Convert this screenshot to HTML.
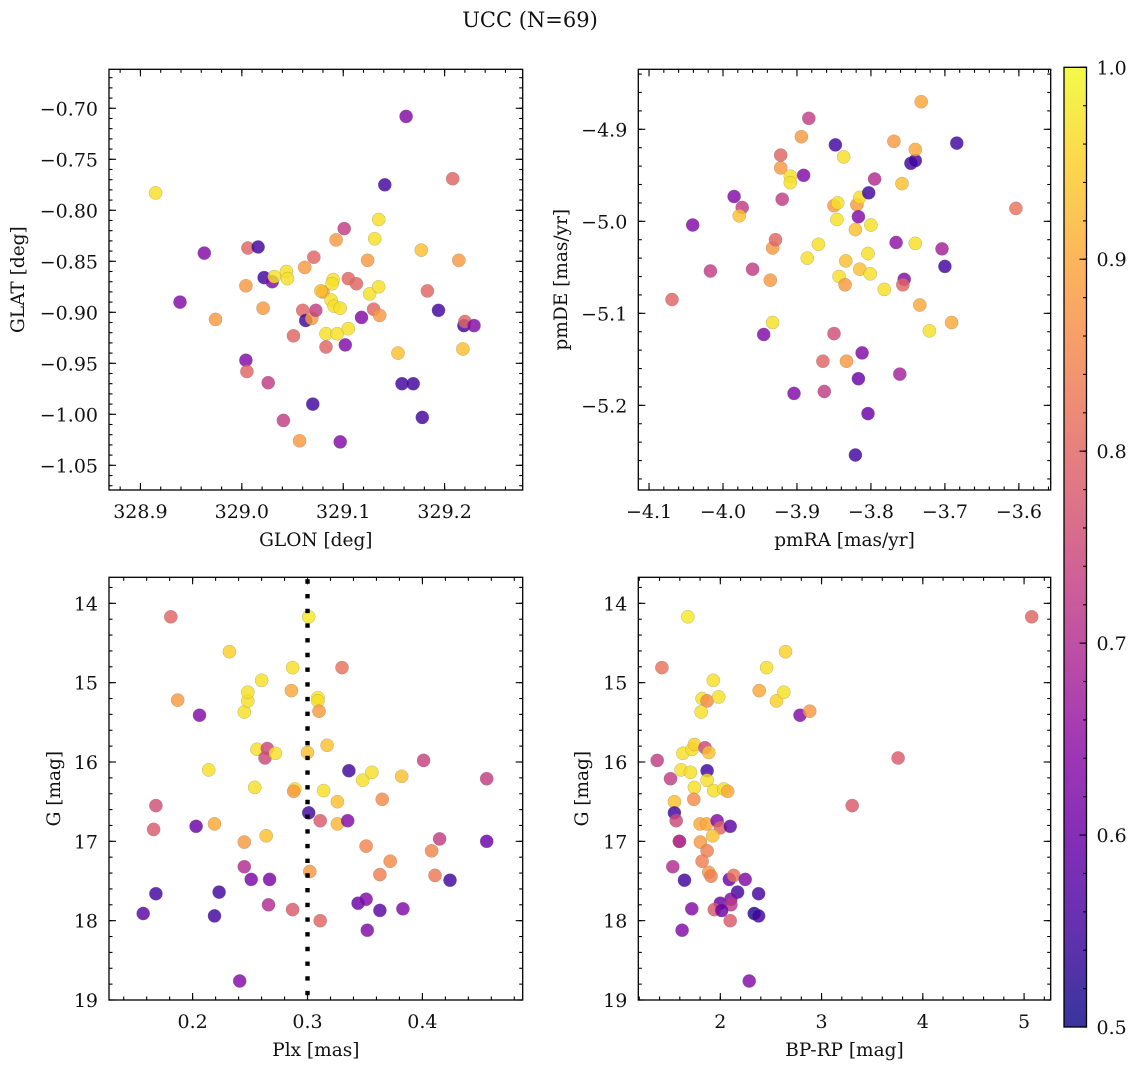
<!DOCTYPE html>
<html><head><meta charset="utf-8">
<style>
html,body{margin:0;padding:0;background:#fff;}
svg{display:block;}
text{font-family:"DejaVu Serif","Liberation Serif",serif;fill:#111;}
</style></head>
<body>
<svg id="fig" width="1136" height="1067" viewBox="0 0 1136 1067" xmlns="http://www.w3.org/2000/svg">
<defs>
<linearGradient id="cbgrad" x1="0" y1="1" x2="0" y2="0"></linearGradient>
</defs>
<text x="530" y="27" font-size="21" text-anchor="middle">UCC (N=69)</text>
</svg>
<script>
// ---- data (Y=0.97, mixed=0.93, orange=0.88, salmon=0.80, pink=0.73, purple=0.63, dark=0.55) ----
const glon = [328.915,328.963,328.939,328.974,329.004,329.006,329.016,329.004,329.005,329.021,329.022,329.030,329.032,329.044,329.045,329.026,329.041,329.057,329.051,329.062,329.071,329.060,329.063,329.069,329.073,329.070,329.080,329.078,329.083,329.083,329.090,329.089,329.088,329.091,329.097,329.094,329.093,329.101,329.102,329.097,329.105,329.105,329.113,329.118,329.124,329.126,329.130,329.135,329.136,329.131,329.135,329.141,329.162,329.154,329.158,329.169,329.177,329.178,329.183,329.194,329.208,329.214,329.218,329.219,329.220,329.229];
const glat = [-0.783,-0.842,-0.890,-0.907,-0.874,-0.837,-0.836,-0.947,-0.958,-0.896,-0.866,-0.870,-0.865,-0.860,-0.867,-0.969,-1.006,-1.026,-0.923,-0.856,-0.846,-0.898,-0.908,-0.906,-0.898,-0.990,-0.880,-0.879,-0.921,-0.934,-0.868,-0.872,-0.888,-0.894,-0.896,-0.921,-0.829,-0.818,-0.932,-1.027,-0.916,-0.867,-0.872,-0.905,-0.849,-0.882,-0.897,-0.875,-0.903,-0.828,-0.809,-0.775,-0.708,-0.940,-0.970,-0.970,-0.839,-1.003,-0.879,-0.898,-0.769,-0.849,-0.936,-0.913,-0.909,-0.913];
const prob1 = [0.97,0.63,0.63,0.88,0.88,0.80,0.55,0.63,0.80,0.88,0.55,0.63,0.97,0.97,0.97,0.73,0.73,0.88,0.80,0.88,0.80,0.80,0.55,0.88,0.73,0.55,0.88,0.93,0.97,0.80,0.97,0.97,0.97,0.97,0.97,0.97,0.88,0.73,0.63,0.63,0.97,0.80,0.80,0.63,0.88,0.97,0.80,0.97,0.88,0.97,0.97,0.55,0.63,0.93,0.55,0.55,0.93,0.55,0.80,0.55,0.80,0.88,0.93,0.55,0.80,0.63];

const pmra = [-4.069,-4.041,-4.017,-3.985,-3.974,-3.978,-3.960,-3.945,-3.936,-3.933,-3.933,-3.929,-3.922,-3.922,-3.920,-3.909,-3.909,-3.894,-3.891,-3.884,-3.886,-3.871,-3.904,-3.863,-3.865,-3.850,-3.848,-3.850,-3.845,-3.846,-3.837,-3.834,-3.843,-3.835,-3.833,-3.821,-3.819,-3.815,-3.817,-3.803,-3.815,-3.800,-3.804,-3.801,-3.812,-3.817,-3.804,-3.821,-3.795,-3.782,-3.769,-3.766,-3.758,-3.755,-3.757,-3.761,-3.746,-3.740,-3.740,-3.740,-3.734,-3.732,-3.721,-3.704,-3.700,-3.691,-3.684,-3.604];
const pmde = [-5.085,-5.004,-5.054,-4.973,-4.985,-4.994,-5.052,-5.123,-5.064,-5.110,-5.029,-5.020,-4.928,-4.942,-4.976,-4.951,-4.958,-4.908,-4.950,-4.888,-5.040,-5.025,-5.187,-5.185,-5.152,-5.122,-4.917,-4.983,-4.980,-4.998,-4.930,-5.043,-5.060,-5.069,-5.152,-5.009,-4.982,-4.974,-4.995,-4.969,-5.052,-5.004,-5.035,-5.057,-5.143,-5.171,-5.209,-5.254,-4.954,-5.074,-4.913,-5.023,-4.959,-5.063,-5.069,-5.166,-4.937,-4.934,-4.922,-5.024,-5.091,-4.870,-5.119,-5.030,-5.049,-5.110,-4.915,-4.986];
const prob2 = [0.80,0.63,0.73,0.63,0.73,0.93,0.73,0.63,0.88,0.97,0.88,0.80,0.80,0.88,0.73,0.97,0.97,0.88,0.63,0.73,0.97,0.97,0.63,0.73,0.80,0.76,0.55,0.88,0.97,0.97,0.97,0.93,0.97,0.88,0.88,0.93,0.88,0.97,0.63,0.55,0.93,0.97,0.97,0.97,0.63,0.60,0.60,0.55,0.70,0.97,0.88,0.65,0.93,0.63,0.80,0.68,0.55,0.55,0.90,0.97,0.90,0.90,0.97,0.68,0.55,0.90,0.55,0.82];

const plx = [0.181,0.187,0.206,0.232,0.168,0.166,0.168,0.157,0.203,0.214,0.219,0.223,0.219,0.241,0.245,0.245,0.251,0.245,0.248,0.248,0.254,0.256,0.260,0.265,0.263,0.272,0.264,0.266,0.267,0.287,0.287,0.286,0.289,0.288,0.301,0.300,0.301,0.302,0.309,0.309,0.310,0.311,0.311,0.317,0.314,0.326,0.326,0.330,0.335,0.336,0.344,0.351,0.352,0.348,0.356,0.351,0.363,0.363,0.365,0.372,0.382,0.383,0.401,0.408,0.411,0.415,0.424,0.456,0.456];
const gmagA = [14.17,15.22,15.41,14.61,16.55,16.85,17.66,17.91,16.81,16.10,16.78,17.64,17.94,18.76,17.01,17.32,17.48,15.37,15.23,15.12,16.32,15.84,14.97,15.83,15.95,15.89,16.93,17.80,17.48,17.86,14.81,15.10,16.34,16.37,14.17,15.88,16.64,17.38,15.19,15.23,15.36,16.74,18.00,15.79,16.36,16.50,16.78,14.81,16.74,16.11,17.78,17.73,18.12,16.23,16.13,17.06,17.87,17.42,16.47,17.25,16.18,17.85,15.98,17.12,17.43,16.97,17.49,16.21,17.00];
const prob3 = [0.80,0.88,0.63,0.95,0.76,0.78,0.55,0.58,0.60,0.97,0.90,0.55,0.55,0.63,0.88,0.70,0.62,0.97,0.97,0.97,0.97,0.97,0.97,0.75,0.75,0.97,0.93,0.70,0.62,0.78,0.97,0.90,0.97,0.88,0.98,0.93,0.55,0.88,0.98,0.97,0.88,0.78,0.80,0.93,0.97,0.93,0.92,0.82,0.63,0.55,0.60,0.63,0.63,0.97,0.97,0.85,0.58,0.84,0.86,0.86,0.93,0.63,0.74,0.85,0.83,0.73,0.55,0.73,0.60];

const bprp = [1.679,1.423,1.931,1.820,1.869,1.984,1.810,2.384,2.457,2.644,2.555,2.627,2.787,2.883,1.377,1.508,1.630,1.721,1.744,1.849,1.886,1.613,1.705,1.869,1.869,1.744,1.935,2.033,2.073,1.738,1.547,1.547,1.564,3.303,3.756,5.075,1.800,1.866,1.968,2.000,2.098,1.925,1.596,1.596,1.803,1.869,1.820,1.531,1.886,1.908,1.646,2.089,2.132,2.246,2.171,2.378,2.000,2.105,2.105,1.941,2.014,1.718,2.335,2.378,2.098,1.623,2.285];
const gmagB = [14.17,14.81,14.97,15.20,15.23,15.18,15.37,15.10,14.81,14.61,15.23,15.12,15.41,15.36,15.98,16.21,15.89,15.84,15.78,15.82,15.88,16.10,16.13,16.11,16.23,16.32,16.36,16.34,16.37,16.47,16.50,16.64,16.74,16.55,15.95,14.17,16.78,16.78,16.74,16.83,16.81,16.93,17.00,17.00,17.01,17.12,17.25,17.32,17.39,17.44,17.49,17.48,17.43,17.48,17.64,17.66,17.78,17.73,17.80,17.86,17.87,17.85,17.91,17.94,18.00,18.12,18.76];
const prob4 = [0.98,0.82,0.97,0.97,0.86,0.97,0.97,0.90,0.97,0.95,0.95,0.97,0.63,0.88,0.73,0.73,0.97,0.97,0.95,0.75,0.93,0.97,0.97,0.55,0.97,0.97,0.97,0.97,0.90,0.86,0.93,0.55,0.75,0.78,0.78,0.80,0.90,0.90,0.63,0.80,0.58,0.93,0.63,0.72,0.88,0.84,0.84,0.70,0.88,0.84,0.55,0.60,0.82,0.63,0.55,0.55,0.60,0.63,0.72,0.78,0.60,0.63,0.52,0.55,0.78,0.63,0.63];

const cbTicks = [0.5,0.6,0.7,0.8,0.9,1.0];
const tick1x = [328.9,329.0,329.1,329.2], tick1y = [-0.70,-0.75,-0.80,-0.85,-0.90,-0.95,-1.00,-1.05];
const tick2x = [-4.1,-4.0,-3.9,-3.8,-3.7,-3.6], tick2y = [-4.9,-5.0,-5.1,-5.2];
const tick3x = [0.2,0.3,0.4], tickGy = [14,15,16,17,18,19];
const tick4x = [2,3,4,5];
const plxLine = 0.3;

// ---- plasma colormap ----
const PL = ['#0d0887','#41049d','#6a00a8','#8f0da4','#b12a90','#cc4778','#e16462','#f2844b','#fca636','#fcce25','#f0f921'];
function hx(h){return [parseInt(h.substr(1,2),16),parseInt(h.substr(3,2),16),parseInt(h.substr(5,2),16)];}
function plasma(t){t=Math.max(0,Math.min(1,t));const f=t*10,i=Math.min(9,Math.floor(f)),u=f-i;const a=hx(PL[i]),b=hx(PL[i+1]);
 return 'rgb('+a.map((v,k)=>Math.round(v+(b[k]-v)*u)).join(',')+')';}
function cmap(v){return plasma((v-0.5)/0.5);}

const NS='http://www.w3.org/2000/svg';
const svg=document.getElementById('fig');
function el(tag,attrs,parent){const e=document.createElementNS(NS,tag);for(const k in attrs)e.setAttribute(k,attrs[k]);(parent||svg).appendChild(e);return e;}
function fmt(v,d){const s=Math.abs(v).toFixed(d);return (v<0?'\u2212':'')+s;}

function panel(o){
 const g=el('g',{});
 
 
 const X=v=>o.L+(v-o.x0)/(o.x1-o.x0)*(o.R-o.L);
 const Y=v=>o.B-(v-o.y0)/(o.y1-o.y0)*(o.B-o.T);
 const clip='clip-'+o.name;
 const cp=el('clipPath',{id:clip},g);el('rect',{x:o.L,y:o.T,width:o.R-o.L,height:o.B-o.T},cp);
 const pts=el('g',{'clip-path':'url(#'+clip+')'},g);
 
 
 for(let i=0;i<o.xs.length;i++){
  const c=el('circle',{cx:X(o.xs[i]).toFixed(1),cy:Y(o.ys[i]).toFixed(1),r:6.6,fill:cmap(o.cs[i]),'fill-opacity':0.82,stroke:'#777','stroke-width':0.4,'stroke-opacity':0.6},pts);
  
  
 }
 if(o.vline!==undefined){
  const ln=el('line',{x1:X(o.vline),x2:X(o.vline),y1:o.T+2,y2:o.B,stroke:'#000','stroke-width':4.4,'stroke-dasharray':'4.4 10.3'},g);
  
  
 }
 const fr=el('rect',{x:o.L,y:o.T,width:o.R-o.L,height:o.B-o.T,fill:'none',stroke:'#000','stroke-width':1.3},g);
 
 
 const tk=el('g',{stroke:'#000','stroke-width':1.1},g);
 const minorX=[],minorY=[];
 for(let v=o.xt[0]-o.xm*20;v<=o.x1+1e-9;v+=o.xm){if(v>=Math.min(o.x0,o.x1)-1e-9)minorX.push(v);}
 const ylo=Math.min(o.y0,o.y1),yhi=Math.max(o.y0,o.y1);
 for(let v=Math.min(...o.yt)-o.ym*20;v<=yhi+1e-9;v+=o.ym){if(v>=ylo-1e-9)minorY.push(v);}
 minorX.forEach(v=>{const x=X(v);el('line',{x1:x,x2:x,y1:o.B,y2:o.B-3.5},tk);el('line',{x1:x,x2:x,y1:o.T,y2:o.T+3.5},tk);});
 minorY.forEach(v=>{const y=Y(v);el('line',{x1:o.L,x2:o.L+3.5,y1:y,y2:y},tk);el('line',{x1:o.R,x2:o.R-3.5,y1:y,y2:y},tk);});
 const lab=el('g',{'font-size':19},g);
 o.xt.forEach(v=>{const x=X(v);el('line',{x1:x,x2:x,y1:o.B,y2:o.B-7},tk);el('line',{x1:x,x2:x,y1:o.T,y2:o.T+7},tk);
  const t=el('text',{x:x,y:o.B+28,'text-anchor':'middle'},lab);t.textContent=fmt(v,o.xd);
  
  });
 o.yt.forEach(v=>{const y=Y(v);if(y<o.T-1||y>o.B+1)return;el('line',{x1:o.L,x2:o.L+7,y1:y,y2:y},tk);el('line',{x1:o.R,x2:o.R-7,y1:y,y2:y},tk);
  const t=el('text',{x:o.L-11,y:y+7,'text-anchor':'end'},lab);t.textContent=fmt(v,o.yd);
  
  });
 const xl=el('text',{x:(o.L+o.R)/2,y:o.B+56,'text-anchor':'middle','font-size':18.5},g);xl.textContent=o.xlabel;
 
 
 const yx=o.ylx,yy=(o.T+o.B)/2;
 const yl=el('text',{x:yx,y:yy,'text-anchor':'middle','font-size':18.5,transform:'rotate(-90 '+yx+' '+yy+')'},g);yl.textContent=o.ylabel;
 
 
}

const LL=109,LR=522.7,RL=638.3,RR=1050.7,TT=69.3,TB=490,BT=577.3,BB=1000;
panel({name:'glon-glat-panel',L:LL,R:LR,T:TT,B:TB,x0:328.869,x1:329.277,y0:-1.0742,y1:-0.6618,xs:glon,ys:glat,cs:prob1,xt:tick1x,yt:tick1y,xm:0.02,ym:0.01,xd:1,yd:2,xlabel:'GLON [deg]',ylabel:'GLAT [deg]',ylx:24});
panel({name:'pm-panel',L:RL,R:RR,T:TT,B:TB,x0:-4.1145,x1:-3.557,y0:-5.292,y1:-4.8348,xs:pmra,ys:pmde,cs:prob2,xt:tick2x,yt:tick2y,xm:0.02,ym:0.02,xd:1,yd:1,xlabel:'pmRA [mas/yr]',ylabel:'pmDE [mas/yr]',ylx:567});
panel({name:'plx-g-panel',L:LL,R:LR,T:BT,B:BB,x0:0.1272,x1:0.4873,y0:19.0,y1:13.672,xs:plx,ys:gmagA,cs:prob3,xt:tick3x,yt:tickGy,xm:0.02,ym:0.2,xd:1,yd:0,xlabel:'Plx [mas]',ylabel:'G [mag]',ylx:60,vline:plxLine});
panel({name:'cmd-panel',L:RL,R:RR,T:BT,B:BB,x0:1.19,x1:5.263,y0:19.0,y1:13.672,xs:bprp,ys:gmagB,cs:prob4,xt:tick4x,yt:tickGy,xm:0.2,ym:0.2,xd:0,yd:0,xlabel:'BP-RP [mag]',ylabel:'G [mag]',ylx:588});

// colorbar
const grad=document.getElementById('cbgrad');
for(let i=0;i<=20;i++){const s=el('stop',{offset:(i/20),'stop-color':plasma(i/20),'stop-opacity':0.82},grad);}
const CT=67.3,CB=1027,CL=1064,CR=1086.5;
const cb=el('g',{});


el('rect',{x:CL,y:CT,width:CR-CL,height:CB-CT,fill:'url(#cbgrad)'},cb);
el('rect',{x:CL,y:CT,width:CR-CL,height:CB-CT,fill:'none',stroke:'#000','stroke-width':1.3},cb);
const CY=v=>CB-(v-0.5)/0.5*(CB-CT);
for(let v=0.5;v<=1.0001;v+=0.02){const y=CY(v);el('line',{x1:CR,x2:CR-3.5,y1:y,y2:y,stroke:'#000','stroke-width':1.1},cb);}
cbTicks.forEach(v=>{const y=CY(v);el('line',{x1:CR,x2:CR-7,y1:y,y2:y,stroke:'#000','stroke-width':1.1},cb);
 const t=el('text',{x:CR+10,y:y+7,'font-size':19},cb);t.textContent=v.toFixed(1);
 
 });
</script>
</body></html>
